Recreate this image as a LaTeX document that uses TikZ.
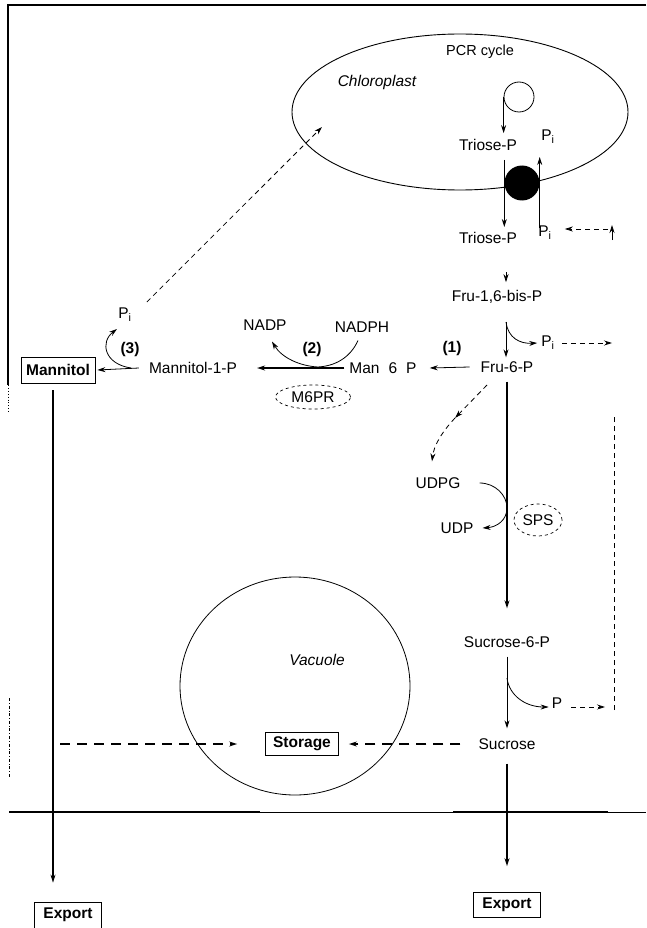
\documentclass[tikz,border=0pt]{standalone}
\usepackage{fontspec}
\setmainfont{Liberation Sans}
\usetikzlibrary{arrows.meta,shapes.geometric}
\newcommand\dfont{\fontsize{15.5}{18}\selectfont}
\begin{document}
\begin{tikzpicture}[x=1pt,y=-1pt,
  txt/.style={inner sep=1pt,font=\dfont},
  itx/.style={inner sep=1pt,font=\dfont\itshape},
  bld/.style={inner sep=1pt,font=\dfont\bfseries},
  boxed/.style={draw,line width=0.8pt,inner sep=3pt,font=\dfont\bfseries},
  enz/.style={draw,ellipse,dashed,line width=0.7pt,inner sep=1pt,font=\dfont},
  arw/.style={-{Stealth[length=8pt,width=5pt]}},
  thn/.style={line width=0.8pt},
  thk/.style={line width=1.7pt},
  mid/.style={line width=1.2pt},
  dsh/.style={dash pattern=on 5pt off 4pt},
  tdsh/.style={line width=1.6pt,dash pattern=on 10pt off 7pt}]
\useasboundingbox (0,0) rectangle (646,928);

% frame
\coordinate (ftl) at (8,5);
\coordinate (ftr) at (646,5);
\coordinate (fbl) at (8,385);
\coordinate (fbd) at (8,412);
\coordinate (fd1) at (9,698);
\coordinate (fd2) at (9,777);
\draw[line width=1.4pt] (ftr) -- (ftl) -- (fbl);
\draw[line width=0.9pt,dotted] (fbl) -- (fbd);
\draw[line width=0.6pt,dash dot] (fd1) -- (fd2);

% chloroplast
\node[draw,ellipse,line width=0.9pt,minimum width=336pt,minimum height=156pt,inner sep=0] (chloro) at (460,112) {};
\node[txt,font=\fontsize{14.5}{17}\selectfont] (pcr) at (480,52) {PCR cycle};
\node[itx] (chl) at (377,82) {Chloroplast};
\node[draw,circle,thn,minimum size=30pt,inner sep=0] (cyc) at (519,97) {};
\node[txt] (triose) at (488,145) {Triose-P};
\node[txt] (piup) at (548,137) {P\textsubscript{i}};
\node[circle,fill,minimum size=35pt,inner sep=0] (transp) at (522,183) {};
\node[txt] (trose) at (488,238) {Triose-P};
\node[txt] (pilow) at (545,233) {P\textsubscript{i}};

\draw[thn,arw] (cyc.west) -- ([yshift=5pt]cyc.west |- triose.north);
\draw[thn,arw] ([yshift=23pt]transp.west) -- ([yshift=-44pt]transp.west);
\draw[thn,arw] ([yshift=-45pt]transp.east) -- ([yshift=26pt]transp.east);
\coordinate (rdash) at (608,229);
\draw[thn,dsh,arw] (rdash) -- ([xshift=12pt,yshift=4pt]pilow.east);
\coordinate (upa) at (612,240);
\coordinate (upb) at (612,225);
\draw[thn,arw] (upa) -- (upb);

% Fru-1,6-bis-P and Fru-6-P
\node[txt] (fru16) at (497,297) {Fru-1,6-bis-P};
\node[txt] (pi1) at (548,343) {P\textsubscript{i}};
\node[txt] (fru6p) at (507,367) {Fru-6-P};
\node[bld] (one) at (452,348) {(1)};
\coordinate (tf1) at (506,272);
\draw[thn,arw] (tf1) -- ([yshift=7pt]tf1 |- fru16.north);
\coordinate (f16b) at (506,322);
\draw[thn,arw] (f16b) -- ([yshift=3pt]f16b |- fru6p.north);
\draw[thn,arw] (f16b) .. controls (508,338) and (520,344) .. ([xshift=-3pt]pi1.west);
\coordinate (pidash) at (612,343);
\draw[thn,dsh,arw] ([xshift=6pt]pi1.east) -- (pidash);

% mannitol branch
\node[txt] (man6p) at (383,368) {Man\hspace{9pt}6\hspace{9pt}P};
\node[txt] (m1p) at (193,368) {Mannitol-1-P};
\node[boxed,minimum width=74pt,minimum height=26pt] (mannitol) at (58,370) {Mannitol};
\node[txt] (nadp) at (265,325) {NADP};
\node[txt] (nadph) at (362,327) {NADPH};
\node[bld] (two) at (312,349) {(2)};
\node[bld] (three) at (130,349) {(3)};
\node[txt] (pi3) at (125,315) {P\textsubscript{i}};
\node[enz,minimum width=75pt,minimum height=24pt] (m6pr) at (313,397) {M6PR};

\draw[thn,arw] ([xshift=-10pt]fru6p.west) -- ([xshift=12pt]man6p.east);
\draw[thk,arw] ([xshift=-4pt]man6p.west) -- ([xshift=19pt]m1p.east);
\draw[thn,arw] ([xshift=-9pt]m1p.west) -- ([xshift=2pt]mannitol.east);
\coordinate (c2m) at (318,367);
\draw[thn] ([xshift=-4pt,yshift=-7pt]nadph.south) .. controls (350,358) and (335,366) .. (c2m);
\draw[thn,arw] (c2m) .. controls (300,366) and (282,358) .. ([xshift=7pt,yshift=-10pt]nadp.south);
\coordinate (c3s) at (131,368);
\coordinate (c3e) at (117,329);
\draw[thn,arw] (c3s) .. controls (104,364) and (100,342) .. (c3e);
\coordinate (chlin) at (322,127);
\draw[thn,dsh,arw] ([xshift=14pt,yshift=13pt]pi3.east) -- (chlin);

% sucrose branch
\node[txt] (udpg) at (438,483) {UDPG};
\node[txt] (udp) at (457,528) {UDP};
\node[enz,minimum width=48pt,minimum height=32pt] (sps) at (538,520) {SPS};
\node[txt] (suc6p) at (507,642) {Sucrose-6-P};
\node[txt] (p2) at (557,703) {P};
\node[txt] (sucrose) at (507,744) {Sucrose};

\draw[thk,arw] ([yshift=-8pt]fru6p.south) -- ([yshift=27pt]suc6p.north);
\coordinate (dc1) at (487,385);
\coordinate (dc2) at (455,418);
\draw[thn,dsh,arw] (dc1) -- (dc2);
\draw[thn,dsh,arw] (dc2) .. controls (442,432) and (434,445) .. ([xshift=-6pt,yshift=15pt]udpg.north);
\coordinate (ucm) at (507,508);
\draw[thn] ([xshift=18pt]udpg.east) .. controls (495,483) and (507,495) .. (ucm);
\draw[thn,arw] (ucm) .. controls (507,520) and (497,527) .. ([xshift=8pt]udp.east);

\draw[thn,arw] ([yshift=-8pt]suc6p.south) -- ([yshift=9pt]sucrose.north);
\coordinate (s6b) at (507,678);
\draw[thn,arw] (s6b) .. controls (509,695) and (525,707) .. ([xshift=-2pt,yshift=-4pt]p2.west);
\coordinate (pdash) at (605,707);
\draw[thn,dsh,arw] ([xshift=8pt,yshift=-4pt]p2.east) -- (pdash);
\coordinate (vd1) at (614,710);
\coordinate (vd2) at (614,415);
\draw[thn,dsh] (vd1) -- (vd2);

% vacuole
\node[draw,ellipse,line width=0.8pt,minimum width=230pt,minimum height=218pt,inner sep=0] (vacuole) at (295,686) {};
\node[itx] (vac) at (317,660) {Vacuole};
\node[boxed,minimum width=73pt,minimum height=23pt,fill=white] (storage) at (302,744) {Storage};
\draw[tdsh,arw] ([xshift=-17pt]sucrose.west) -- ([xshift=10pt]storage.east);
\coordinate (ld) at (60,744);
\draw[tdsh,arw] (ld) -- ([xshift=-28pt]storage.west);

% membrane
\coordinate (m0) at (9,812);
\coordinate (m1) at (260,812);
\coordinate (m2) at (453,812);
\coordinate (m3) at (608,812);
\coordinate (m4) at (646,812);
\draw[line width=1.8pt] (m0) -- (m1);
\draw[line width=0.8pt] (m1) -- (m2);
\draw[line width=1.8pt] (m2) -- (m3);
\draw[line width=0.8pt] (m3) -- (m4);

% exports
\node[boxed,minimum width=67pt,minimum height=26pt] (export1) at (68,915) {Export};
\node[boxed,minimum width=67pt,minimum height=25pt] (export2) at (507,905) {Export};
\draw[mid,arw] ([xshift=-5pt,yshift=-7pt]mannitol.south) -- ([xshift=-15pt,yshift=19pt]export1.north);
\draw[thk,arw] ([yshift=-13pt]sucrose.south) -- ([yshift=26pt]export2.north);
\end{tikzpicture}
\end{document}
